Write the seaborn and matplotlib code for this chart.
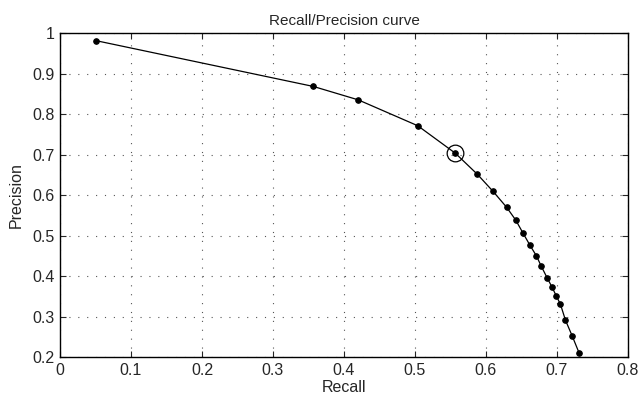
import matplotlib
matplotlib.use("Agg")
import matplotlib.pyplot as plt
import seaborn as sns
import pandas as pd

# Recall / precision points
recall = [0.051, 0.357, 0.420, 0.504, 0.557, 0.588, 0.610, 0.629, 0.642, 0.6525,
          0.662, 0.671, 0.678, 0.686, 0.693, 0.699, 0.705, 0.712, 0.7215, 0.731]
precision = [0.981, 0.868, 0.835, 0.771, 0.703, 0.651, 0.609, 0.570, 0.538, 0.505,
             0.476, 0.450, 0.424, 0.396, 0.373, 0.351, 0.330, 0.291, 0.252, 0.211]
# highlighted operating point
best_recall = [0.557]
best_precision = [0.703]

df = pd.DataFrame({"Recall": recall, "Precision": precision})

sns.set_style("ticks")
plt.rcParams["font.family"] = ["Liberation Sans", "DejaVu Sans"]

fig = plt.figure(figsize=(6.41, 4.01), dpi=100)
ax = fig.add_axes([0.0936, 0.1097, 0.886, 0.808])

sns.lineplot(data=df, x="Recall", y="Precision", sort=False, color="black",
             linewidth=0.9, marker="o", markersize=4, markeredgecolor="black",
             ax=ax)
ax.plot(best_recall, best_precision, linestyle="none", marker="o", markersize=12,
        markerfacecolor="none", markeredgecolor="black", markeredgewidth=0.9)

ax.set_xlim(0, 0.8)
ax.set_ylim(0.2, 1)
ax.set_xticks([0, 0.1, 0.2, 0.3, 0.4, 0.5, 0.6, 0.7, 0.8])
ax.set_xticklabels(["0", "0.1", "0.2", "0.3", "0.4", "0.5", "0.6", "0.7", "0.8"])
ax.set_yticks([0.2, 0.3, 0.4, 0.5, 0.6, 0.7, 0.8, 0.9, 1])
ax.set_yticklabels(["0.2", "0.3", "0.4", "0.5", "0.6", "0.7", "0.8", "0.9", "1"])
ax.grid(True, linestyle=(0, (1, 7)), color="#555555", linewidth=0.8)
ax.tick_params(direction="in", length=4, width=0.8, labelsize=11.5, top=True, right=True,
               labeltop=False, labelright=False, pad=4)
for s in ax.spines.values():
    s.set_linewidth(1.0)
    s.set_color("black")

ax.set_xlabel("Recall", fontsize=11.5, labelpad=2)
ax.set_ylabel("Precision", fontsize=11.5, labelpad=6)
ax.set_title("Recall/Precision curve", fontsize=11, pad=6)

fig.savefig("out.png", dpi=100, facecolor="white")
